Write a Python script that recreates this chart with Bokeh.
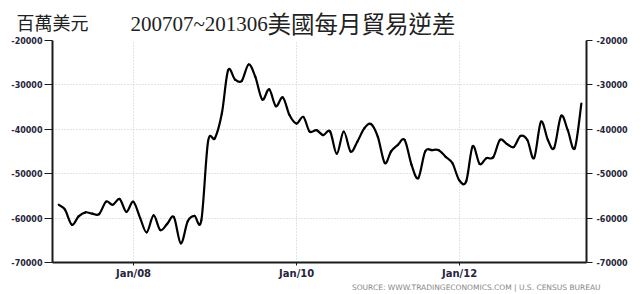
import numpy as np
from bokeh.plotting import figure
from bokeh.layouts import column
from bokeh.models import (ColumnDataSource, FixedTicker, DatetimeTickFormatter, LinearAxis,
                          Label, PrintfTickFormatter, Range1d)
from bokeh.embed import file_html
from bokeh.resources import INLINE

# ---- data (monthly, Jan 2007 .. Jun 2013, millions of USD) ----
start_month = "2007-01"
end_month = "2013-06"
values = [
    -57000, -58100, -61500, -59600, -58700, -59000, -59100, -56300, -57000, -55700,
    -58600, -56300, -60000, -63200, -59400, -62700, -61300, -59800, -65700, -60700,
    -59500, -60500, -42800, -42000, -36400, -26700, -28800, -29100, -25400, -28200,
    -33300, -31000, -34800, -32800, -36800, -38700, -37200, -40500, -40200, -41300,
    -40500, -45500, -40500, -45000, -42800, -39800, -38800, -41700, -47600, -45000,
    -43500, -42400, -48000, -51000, -45000, -44700, -44700, -46200, -47600, -51500,
    -51700, -43800, -47800, -46500, -46300, -42400, -43300, -44000, -41500, -42400,
    -46500, -38300, -42400, -44200, -37000, -40200, -44300, -34200,
]
y_ticks = [-70000, -60000, -50000, -40000, -30000, -20000]
x_tick_dates = ["2008-01-01", "2010-01-01", "2012-01-01"]
unit_label = "百萬美元"
title_num = "200707~201306"
title_cjk = "美國每月貿易逆差"
source_text = "SOURCE:  WWW.TRADINGECONOMICS.COM  |  U.S.  CENSUS  BUREAU"

# month-end dates
months = np.arange(np.datetime64(start_month, "M") + 1, np.datetime64(end_month, "M") + 2)
dates = months.astype("datetime64[D]") - np.timedelta64(1, "D")
xs = dates.astype("datetime64[ms]").astype(np.int64).astype(float)
ys = np.array(values, dtype=float)


def ms(d):
    return float(np.datetime64(d, "ms").astype(np.int64))


# smooth curve through the points (Catmull-Rom as cubic bezier segments)
n = len(xs)
px = np.concatenate([[xs[0]], xs, [xs[-1]]])
py = np.concatenate([[ys[0]], ys, [ys[-1]]])
seg = dict(x0=[], y0=[], x1=[], y1=[], cx0=[], cy0=[], cx1=[], cy1=[])
for i in range(n - 1):
    p0x, p0y = px[i], py[i]
    p1x, p1y = px[i + 1], py[i + 1]
    p2x, p2y = px[i + 2], py[i + 2]
    p3x, p3y = px[i + 3], py[i + 3]
    seg["x0"].append(p1x); seg["y0"].append(p1y)
    seg["x1"].append(p2x); seg["y1"].append(p2y)
    seg["cx0"].append(p1x + (p2x - p0x) / 6.0); seg["cy0"].append(p1y + (p2y - p0y) / 6.0)
    seg["cx1"].append(p2x - (p3x - p1x) / 6.0); seg["cy1"].append(p2y - (p3y - p1y) / 6.0)
src = ColumnDataSource(seg)


def text_strip(height):
    f = figure(width=640, height=height, x_range=Range1d(0, 640), y_range=Range1d(0, height),
               output_backend="svg", toolbar_location=None, title=None,
               x_axis_location=None, y_axis_location=None, min_border=0,
               frame_align=False)
    f.outline_line_color = None
    f.xgrid.visible = False
    f.ygrid.visible = False
    f.background_fill_color = "white"
    f.border_fill_color = "white"
    return f


# ---- title strip (40 px; the chart below overlaps its last 5 px) ----
top = text_strip(40)
top.add_layout(Label(x=16, y=18.3, x_units="screen", y_units="screen",
                     text=unit_label, text_font="Noto Sans CJK TC", text_font_size="18px",
                     text_color="#222", text_baseline="middle", text_align="left"))
top.add_layout(Label(x=130, y=17, x_units="screen", y_units="screen",
                     text=title_num, text_font="Liberation Serif", text_font_size="21px",
                     text_color="#222", text_baseline="middle", text_align="left"))
top.add_layout(Label(x=267, y=17.5, x_units="screen", y_units="screen",
                     text=title_cjk, text_font="Noto Sans CJK TC", text_font_size="23.5px",
                     text_color="#222", text_baseline="middle", text_align="left"))

# ---- main chart ----
p = figure(width=640, height=246, x_axis_type="datetime",
           x_range=Range1d(ms("2007-01-03"), ms("2013-07-23")),
           y_range=Range1d(-70000, -20000), title=None,
           output_backend="svg", toolbar_location=None, frame_align=False,
           margin=(-5, 0, 0, 0),
           min_border_left=52, min_border_right=54, min_border_top=5, min_border_bottom=18)
p.outline_line_color = None
p.background_fill_color = "white"
p.border_fill_color = "white"
p.border_fill_alpha = 0

xt = FixedTicker(ticks=[ms(d) for d in x_tick_dates])
yt = FixedTicker(ticks=y_ticks)
fmt = "%b/%y"
p.xaxis[0].ticker = xt
p.xaxis[0].formatter = DatetimeTickFormatter(years=fmt, months=fmt, days=fmt, hours=fmt,
                                             minutes=fmt, seconds=fmt, milliseconds=fmt,
                                             microseconds=fmt, hourmin=fmt, minsec=fmt)
p.yaxis[0].ticker = yt
p.yaxis[0].formatter = PrintfTickFormatter(format="%d")
p.xgrid.ticker = xt
p.ygrid.ticker = yt

raxis = LinearAxis(ticker=yt, formatter=PrintfTickFormatter(format="%d"))
p.add_layout(raxis, "right")

for ax in [p.xaxis[0], p.yaxis[0], raxis]:
    ax.axis_line_color = "#1a1a1a"
    ax.axis_line_width = 2
    ax.major_tick_line_color = "#1a1a1a"
    ax.major_tick_line_width = 1
    ax.major_tick_in = 0
    ax.minor_tick_line_color = None
    ax.major_label_text_font = "DejaVu Sans"
    ax.major_label_text_font_style = "bold"
    ax.major_label_text_color = "#26263a"

p.xaxis[0].major_tick_out = 3
p.xaxis[0].major_label_text_font_size = "10px"
p.xaxis[0].major_label_standoff = 2
for ax in [p.yaxis[0], raxis]:
    ax.major_label_text_font_size = "8px"
    ax.major_tick_out = 8
p.yaxis[0].major_label_standoff = 2
raxis.major_tick_out = 6
raxis.major_label_standoff = 4

for g in [p.xgrid[0], p.ygrid[0]]:
    g.grid_line_color = "#c8c8c8"
    g.grid_line_dash = "1 2"
    g.grid_line_width = 1

p.bezier(x0="x0", y0="y0", x1="x1", y1="y1", cx0="cx0", cy0="cy0", cx1="cx1", cy1="cy1",
         source=src, line_color="black", line_width=2.2, line_cap="round")

# ---- source strip ----
bottom = text_strip(13)
bottom.add_layout(Label(x=612, y=7, x_units="screen", y_units="screen",
                        text=source_text, text_font="DejaVu Sans", text_font_size="7.5px",
                        text_color="#888", text_baseline="middle", text_align="right"))

layout = column(top, p, bottom, spacing=0)
open("out.html", "w").write(file_html(layout, INLINE))
